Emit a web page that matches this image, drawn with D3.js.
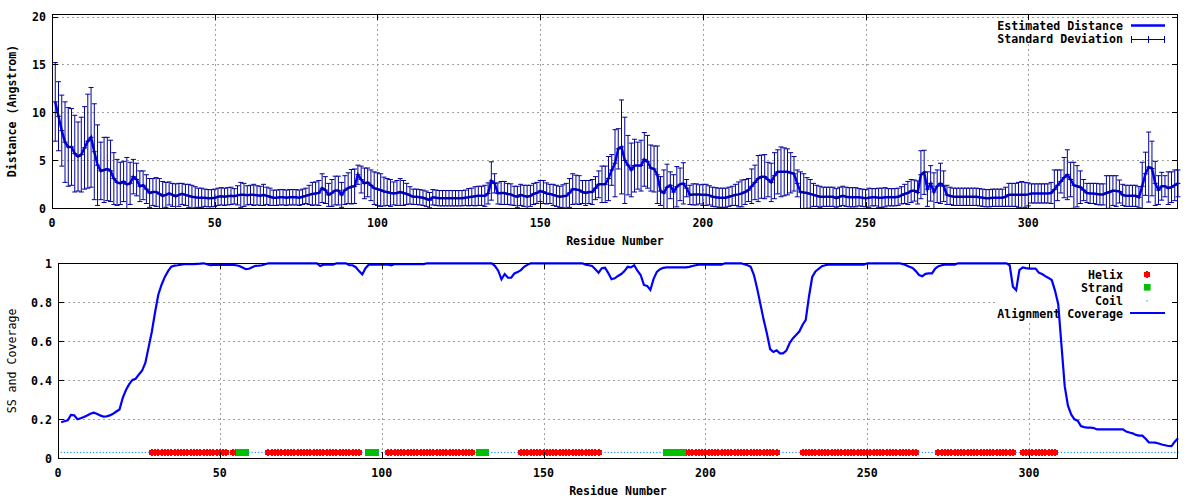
<!DOCTYPE html>
<html><head><meta charset="utf-8">
<script src="https://cdn.jsdelivr.net/npm/d3@7"></script>
<style>
body{margin:0;background:#fff}
text{font-family:"DejaVu Sans Mono","Liberation Mono",monospace;font-size:11.6px;font-weight:bold;fill:#000}
</style></head><body>
<svg id="c" width="1200" height="500"></svg>
<script>
// ---------------- DATA ----------------
const residues = d3.range(1, 347);
const distance = [
11.1,9.6,8.1,6.9,6.4,6.4,5.7,5.4,5.6,6.3,
7.0,7.4,5.9,4.5,3.9,4.0,4.1,3.9,3.1,2.7,
2.6,2.8,2.5,2.6,3.3,3.0,2.3,2.4,2.0,1.6,
1.7,1.7,1.5,1.3,1.4,1.55,1.4,1.25,1.4,1.5,
1.4,1.3,1.2,1.15,1.1,1.1,1.1,1.05,1.05,1.1,
1.2,1.25,1.2,1.25,1.3,1.25,1.35,1.4,1.4,1.35,
1.4,1.4,1.35,1.3,1.4,1.3,1.2,1.1,1.1,1.15,
1.15,1.1,1.15,1.15,1.15,1.1,1.2,1.3,1.4,1.5,
1.55,1.6,2.1,1.9,1.4,1.6,1.85,1.85,1.4,1.9,
2.1,2.25,2.3,3.5,3.0,2.6,2.7,2.4,2.1,2.0,
1.9,1.75,1.7,1.6,1.55,1.6,1.7,1.6,1.5,1.35,
1.2,1.2,1.15,1.1,1.0,0.85,1.15,1.1,1.05,1.05,
1.05,1.05,1.05,1.05,1.05,1.05,1.1,1.15,1.2,1.25,
1.3,1.3,1.3,1.55,2.85,2.6,1.55,1.6,1.6,1.5,
1.45,1.3,1.2,1.4,1.3,1.2,1.3,1.5,1.6,1.8,
1.7,1.55,1.5,1.4,1.3,1.2,1.25,1.3,1.6,2.0,
1.95,1.9,1.7,1.6,1.7,1.7,2.1,2.5,2.5,2.5,
3.1,4.0,4.7,6.2,6.4,5.0,4.5,4.0,4.45,4.45,
4.45,5.1,4.85,4.2,4.1,3.5,1.8,1.6,2.2,2.4,
1.7,2.25,2.5,2.6,2.1,1.4,1.45,1.45,1.45,1.4,
1.4,1.35,1.2,1.15,1.1,1.1,1.1,1.2,1.3,1.4,
1.45,1.55,1.7,1.9,2.3,2.7,3.1,3.3,3.3,3.0,
2.7,3.4,3.8,3.8,3.8,3.8,3.7,3.6,2.6,1.7,
1.65,1.6,1.5,1.4,1.3,1.2,1.2,1.2,1.2,1.2,
1.05,1.2,1.3,1.2,1.15,1.15,1.15,1.15,1.1,1.05,
1.1,1.15,1.15,1.1,1.1,1.15,1.15,1.15,1.15,1.2,
1.35,1.5,1.6,1.8,1.85,1.65,3.5,3.75,2.0,2.6,
1.7,2.3,2.6,2.3,1.4,1.3,1.2,1.2,1.2,1.2,
1.2,1.2,1.2,1.2,1.15,1.1,1.05,1.05,1.1,1.1,
1.1,1.1,1.2,1.4,1.4,1.4,1.4,1.4,1.4,1.45,
1.55,1.55,1.55,1.55,1.55,1.55,1.6,1.95,2.4,2.8,
3.2,3.5,3.0,2.4,2.3,2.2,1.9,1.6,1.55,1.55,
1.5,1.45,1.45,1.6,1.7,1.85,1.8,1.75,1.4,1.3,
1.3,1.3,1.3,1.15,2.3,3.6,4.3,4.15,2.6,1.9,
2.3,2.3,2.1,2.2,2.4,2.6];
const stdDev = [
4.1,3.6,3.7,4.2,4.1,4.0,4.0,3.6,3.9,4.3,
4.9,5.2,5.0,4.2,3.0,3.4,3.3,3.2,2.7,2.4,
2.2,2.1,2.8,2.2,1.8,1.7,1.6,1.5,1.5,1.5,
1.4,1.5,1.6,1.5,1.3,1.2,1.2,1.3,1.2,1.1,
1.1,1.2,1.2,1.1,1.0,1.0,0.9,0.9,0.9,0.9,
0.9,0.9,0.9,0.9,0.9,0.8,1.0,1.3,1.2,1.0,
1.0,1.1,1.0,1.0,1.1,0.9,0.9,0.8,0.8,0.8,
0.8,0.8,0.8,0.8,0.8,0.8,0.8,0.8,1.0,1.2,
1.2,1.3,1.5,1.4,1.2,1.4,1.5,1.5,1.3,1.5,
1.6,1.8,1.8,1.0,1.4,1.6,1.5,1.6,1.7,1.7,
1.7,1.5,1.4,1.4,1.2,1.3,1.4,1.3,1.1,0.9,
0.8,0.8,0.8,0.8,0.8,0.8,0.8,0.8,0.8,0.8,
0.8,0.8,0.8,0.8,0.8,0.8,0.8,0.9,0.9,1.0,
1.0,1.0,1.1,1.1,2.0,1.0,1.1,1.2,1.2,1.1,
1.1,1.0,1.1,1.1,1.1,1.2,1.1,1.1,1.1,1.1,
1.2,1.1,1.0,1.1,1.1,1.1,1.2,1.3,1.5,1.6,
1.5,1.5,1.2,1.3,1.2,1.3,1.2,1.4,1.9,1.9,
2.3,1.6,3.5,2.1,4.9,4.5,3.1,2.8,2.75,2.45,
2.65,2.8,2.75,2.4,2.4,3.0,1.5,2.4,2.4,1.4,
1.8,2.1,1.7,2.15,0.9,1.0,1.1,1.1,1.0,1.1,
1.1,1.0,1.0,1.0,1.0,1.0,1.0,1.0,1.0,1.1,
1.3,1.4,1.3,1.2,1.8,1.8,2.4,2.25,2.3,1.8,
2.0,2.4,2.3,2.6,2.5,2.4,2.1,1.8,1.4,2.1,
1.95,1.6,1.5,1.2,1.1,1.1,1.0,1.0,1.0,1.0,
1.0,1.0,1.0,1.0,1.0,1.0,1.0,0.9,0.9,0.9,
1.0,0.9,0.9,1.0,1.0,1.0,0.9,0.9,0.9,0.9,
0.9,1.0,1.2,1.2,1.1,1.2,2.5,2.3,1.8,1.85,
2.0,1.7,2.1,1.6,1.0,0.9,0.9,0.9,0.9,0.9,
0.9,0.9,0.9,0.9,0.9,0.9,0.9,0.9,0.9,0.9,
0.9,0.9,1.0,1.2,1.2,1.2,1.3,1.4,1.3,1.2,
1.0,1.0,1.0,1.0,1.0,1.0,1.1,2.05,1.6,1.2,
2.1,2.6,1.8,2.4,2.15,1.7,1.1,1.0,1.05,1.05,
1.1,1.1,1.1,1.8,1.7,1.55,1.6,1.2,1.1,1.1,
1.1,1.1,1.1,1.1,2.5,2.25,3.65,2.85,2.3,1.5,
1.45,1.1,1.7,1.6,1.6,1.4];
const coverage = [
0.185,0.19,0.195,0.222,0.22,0.2,0.205,0.212,0.22,0.228,
0.234,0.228,0.22,0.214,0.215,0.22,0.228,0.24,0.25,0.31,
0.35,0.38,0.402,0.408,0.43,0.45,0.49,0.57,0.65,0.75,
0.84,0.89,0.93,0.96,0.983,0.988,0.99,0.993,0.995,0.996,
0.996,0.996,0.997,0.998,1,0.995,0.99,0.992,0.992,0.992,
0.992,0.992,0.992,0.992,0.99,0.986,0.978,0.97,0.972,0.98,
0.987,0.988,0.99,0.995,1,1,1,1,1,1,
1,1,1,1,1,1,1,1,1,1,
0.986,0.993,0.993,0.993,0.993,1,1,1,1,0.99,
0.99,0.98,0.96,0.943,0.975,0.993,0.993,0.993,0.993,0.993,
0.993,0.993,0.99,0.996,0.996,0.996,0.996,0.996,0.996,0.996,
0.996,0.996,0.996,1,1,1,1,1,1,1,
1,1,1,1,1,1,1,1,1,1,
1,1,1,1,0.986,0.962,0.918,0.945,0.926,0.926,
0.948,0.955,0.965,0.982,0.992,1,1,1,1,1,
1,1,1,1,1,1,1,1,1,1,
1,1,0.993,0.99,0.986,0.97,0.952,0.975,0.977,0.95,
0.918,0.923,0.935,0.945,0.96,0.982,0.979,0.99,0.962,0.94,
0.889,0.884,0.863,0.92,0.956,0.97,0.977,0.979,0.979,0.979,
0.979,0.979,0.979,0.979,0.982,0.986,0.99,0.993,0.993,0.993,
0.993,0.993,0.993,0.993,0.993,1,1,1,1,1,
1,0.995,0.99,0.982,0.94,0.87,0.79,0.71,0.64,0.56,
0.545,0.554,0.538,0.538,0.552,0.59,0.615,0.632,0.65,0.684,
0.71,0.83,0.93,0.958,0.972,0.985,0.99,0.993,0.993,0.993,
0.993,0.993,0.993,0.993,0.993,0.993,0.993,0.993,0.993,1,
1,1,1,1,1,1,1,1,1,1,
0.996,0.99,0.982,0.976,0.96,0.94,0.934,0.946,0.948,0.948,
0.973,0.985,0.99,0.993,0.993,0.993,0.993,1,1,1,
1,1,1,1,1,1,1,1,1,1,
1,1,1,0.99,0.88,0.862,0.965,0.979,0.975,0.973,
0.973,0.973,0.952,0.945,0.934,0.925,0.914,0.86,0.79,0.58,
0.37,0.27,0.225,0.2,0.193,0.165,0.16,0.157,0.157,0.155,
0.148,0.148,0.148,0.148,0.148,0.148,0.148,0.148,0.148,0.137,
0.132,0.128,0.12,0.116,0.116,0.1,0.082,0.081,0.08,0.076,
0.071,0.067,0.063,0.062,0.085,0.103];
const helixRanges = [[29,52],[54,55],[65,93],[102,128],[143,167],[194,222],[230,265],[272,295],[298,308]];
const strandRanges = [[56,58],[96,98],[130,132],[188,193]];
const ssLevel = 0.03;
const xTicks = [0,50,100,150,200,250,300];
const distTicks = [0,5,10,15,20];
const covTicks = [0,0.2,0.4,0.6,0.8,1];
const covTickLabels = ["0","0.2","0.4","0.6","0.8","1"];

// ---------------- DRAW ----------------
const svg = d3.select('#c');
const gridCol = '#a0a0a0';

function inRanges(r, ranges){ return ranges.some(([a,b]) => r>=a && r<=b); }
const helixRes = residues.filter(r => inRanges(r, helixRanges));
const strandRes = residues.filter(r => inRanges(r, strandRanges));
const coilRes = residues.filter(r => !inRanges(r, helixRanges) && !inRanges(r, strandRanges));

function frame(g, x, y, box, yTickVals){
  const grid = g.append('g').attr('stroke', gridCol).attr('stroke-width',1).attr('stroke-dasharray','2,3').attr('shape-rendering','crispEdges');
  xTicks.filter(v=>v>0).forEach(v=>{
    grid.append('line').attr('x1',Math.round(x(v))+0.5).attr('x2',Math.round(x(v))+0.5).attr('y1',box.t).attr('y2',box.b);
  });
  yTickVals.filter(v=>v>0).forEach(v=>{
    grid.append('line').attr('y1',Math.round(y(v))+0.5).attr('y2',Math.round(y(v))+0.5).attr('x1',box.l).attr('x2',box.r);
  });
}
function axes(g, x, y, box, yTickVals, yLabels, yLabelX, xLabelY){
  const a = g.append('g').attr('stroke','#000').attr('stroke-width',1).attr('shape-rendering','crispEdges');
  a.append('rect').attr('x',box.l+0.5).attr('y',box.t+0.5).attr('width',box.r-box.l-1).attr('height',box.b-box.t).attr('fill','none');
  xTicks.forEach(v=>{
    const px = Math.round(x(v))+0.5;
    a.append('line').attr('x1',px).attr('x2',px).attr('y1',box.b).attr('y2',box.b-6);
    a.append('line').attr('x1',px).attr('x2',px).attr('y1',box.t).attr('y2',box.t+6);
    g.append('text').attr('x',x(v)).attr('y',xLabelY).attr('text-anchor','middle').text(v);
  });
  yTickVals.forEach((v,i)=>{
    const py = Math.round(y(v))+0.5;
    a.append('line').attr('x1',box.l).attr('x2',box.l+6).attr('y1',py).attr('y2',py);
    a.append('line').attr('x1',box.r-6).attr('x2',box.r).attr('y1',py).attr('y2',py);
    g.append('text').attr('x',yLabelX).attr('y',y(v)+4.2).attr('text-anchor','end').text(yLabels[i]);
  });
}
// pixel-style filled circle (gnuplot-like helix point)
function helixMark(g, cx, cy){
  g.append('rect').attr('x',cx-3).attr('y',cy-2.5).attr('width',6).attr('height',5);
  g.append('rect').attr('x',cx-1).attr('y',cy-3.5).attr('width',2).attr('height',7);
}

// ----- Top panel -----
const xT = d3.scaleLinear().domain([0,346]).range([52,1178]);
const yT = d3.scaleLinear().domain([0,20]).range([208.3,16.5]);
const boxT = {l:52, r:1178, t:14, b:208};
const gT = svg.append('g');
frame(gT, xT, yT, boxT, distTicks);
gT.append('rect').attr('x',995).attr('y',19).attr('width',182).attr('height',25).attr('fill','#fff');

svg.append('clipPath').attr('id','clipT').append('rect').attr('x',40).attr('y',boxT.t).attr('width',1160).attr('height',boxT.b-boxT.t);
const dataT = gT.append('g').attr('clip-path','url(#clipT)');
dataT.append('path').datum(residues)
  .attr('d', d3.line().x(r=>xT(r)).y(r=>yT(distance[r-1])))
  .attr('fill','none').attr('stroke','#0000ff').attr('stroke-width',2.5);
const eb = dataT.append('g').attr('stroke','#00009a').attr('stroke-width',1).attr('fill','none');
residues.forEach(r=>{
  const d = distance[r-1], s = stdDev[r-1];
  const px = xT(r), yHi = yT(d+s), yLo = yT(d-s);
  eb.append('line').attr('x1',px).attr('x2',px).attr('y1',yHi).attr('y2',yLo);
  eb.append('line').attr('x1',px-2.5).attr('x2',px+2.5).attr('y1',yHi).attr('y2',yHi);
  eb.append('line').attr('x1',px-2.5).attr('x2',px+2.5).attr('y1',yLo).attr('y2',yLo);
  eb.append('line').attr('x1',px-2.5).attr('x2',px+2.5).attr('y1',yT(d)).attr('y2',yT(d));
});
axes(gT, xT, yT, boxT, distTicks, distTicks.map(String), 46, 227);
gT.append('text').attr('x',615).attr('y',245).attr('text-anchor','middle').text('Residue Number');
gT.append('text').attr('transform','translate(15.5,111) rotate(-90)').attr('text-anchor','middle').text('Distance (Angstrom)');
gT.append('text').attr('x',1123).attr('y',30.3).attr('text-anchor','end').text('Estimated Distance');
gT.append('text').attr('x',1123).attr('y',43).attr('text-anchor','end').text('Standard Deviation');
gT.append('line').attr('x1',1131).attr('x2',1165).attr('y1',25.5).attr('y2',25.5).attr('stroke','#0000ff').attr('stroke-width',2.4);
const lg = gT.append('g').attr('stroke','#00009a').attr('stroke-width',1).attr('shape-rendering','crispEdges');
lg.append('line').attr('x1',1131).attr('x2',1165).attr('y1',39.5).attr('y2',39.5);
[1131.5,1148.5,1164.5].forEach(x=>lg.append('line').attr('x1',x).attr('x2',x).attr('y1',36).attr('y2',43));

// ----- Bottom panel -----
const xB = d3.scaleLinear().domain([0,346]).range([58,1178]);
const yB = d3.scaleLinear().domain([0,1]).range([458.3,263.3]);
const boxB = {l:58, r:1178, t:263, b:458};
const gB = svg.append('g');
frame(gB, xB, yB, boxB, covTicks);
gB.append('rect').attr('x',998).attr('y',264).attr('width',179).attr('height',56).attr('fill','#fff');

const hG = gB.append('g').attr('fill','#ff0000').attr('shape-rendering','crispEdges');
helixRes.forEach(r=>helixMark(hG, Math.round(xB(r)), Math.round(yB(ssLevel))));
gB.append('g').attr('shape-rendering','crispEdges').selectAll('rect').data(strandRes).join('rect')
  .attr('x',r=>xB(r)-3.3).attr('y',yB(ssLevel)-3.3).attr('width',6.6).attr('height',6.6).attr('fill','#00c000');
gB.append('g').selectAll('rect').data(coilRes).join('rect')
  .attr('x',r=>xB(r)-0.6).attr('y',yB(ssLevel)-0.6).attr('width',1.2).attr('height',1.2).attr('fill','#1e8fff');

gB.append('path').datum(residues)
  .attr('d', d3.line().x(r=>xB(r)).y(r=>yB(coverage[r-1])))
  .attr('fill','none').attr('stroke','#0000ff').attr('stroke-width',2.2);

axes(gB, xB, yB, boxB, covTicks, covTickLabels, 52, 476.5);
gB.append('text').attr('x',618).attr('y',495).attr('text-anchor','middle').text('Residue Number');
gB.append('text').attr('transform','translate(15.5,361) rotate(-90)').attr('text-anchor','middle').style('font-weight','normal').text('SS and Coverage');
const lgB = [['Helix',279.3],['Strand',292.3],['Coil',305.3],['Alignment Coverage',318]];
lgB.forEach(([t,y])=>gB.append('text').attr('x',1123).attr('y',y).attr('text-anchor','end').text(t));
const hl = gB.append('g').attr('fill','#ff0000').attr('shape-rendering','crispEdges');
helixMark(hl, 1147, 274);
gB.append('rect').attr('x',1144).attr('y',284).attr('width',6.6).attr('height',6.6).attr('fill','#00c000');
gB.append('rect').attr('x',1146.5).attr('y',300.2).attr('width',1.2).attr('height',1.2).attr('fill','#1e8fff');
gB.append('line').attr('x1',1130).attr('x2',1165).attr('y1',313).attr('y2',313).attr('stroke','#0000ff').attr('stroke-width',2.2);
</script>
</body></html>
